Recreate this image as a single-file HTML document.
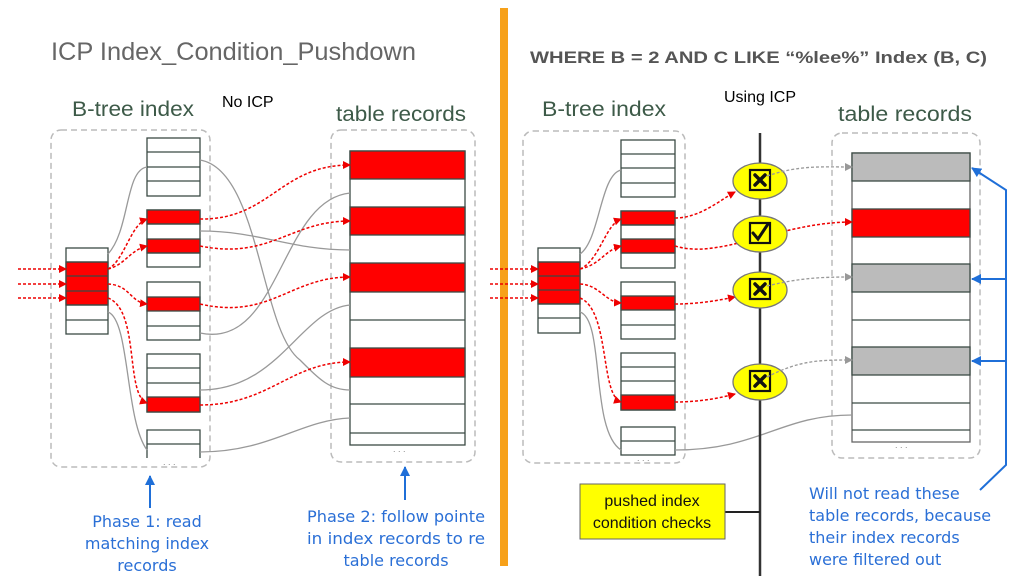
<!DOCTYPE html>
<html><head><meta charset="utf-8"><style>
html,body{margin:0;padding:0;background:#fff;}
svg{display:block;}
text{font-family:"Liberation Sans",sans-serif;}
.b{font-family:"DejaVu Sans",sans-serif;fill:#2a6fd6;font-size:16px;}
</style></head><body>
<svg width="1024" height="576" viewBox="0 0 1024 576" xmlns="http://www.w3.org/2000/svg">
<defs>
<marker id="ar" markerWidth="8" markerHeight="8" refX="7" refY="4" orient="auto" markerUnits="userSpaceOnUse"><path d="M0,0 L8,4 L0,8 z" fill="#e00"/></marker>
<marker id="ag" markerWidth="8" markerHeight="8" refX="7" refY="4" orient="auto" markerUnits="userSpaceOnUse"><path d="M0,0 L8,4 L0,8 z" fill="#999"/></marker>
<marker id="ab" markerWidth="10" markerHeight="10" refX="9" refY="5" orient="auto" markerUnits="userSpaceOnUse"><path d="M0,0 L10,5 L0,10 z" fill="#1f6fd8"/></marker>
</defs>
<rect x="500" y="8" width="8" height="558" fill="#f7a11a"/>
<text x="51" y="60" font-size="25" fill="#666" textLength="365" lengthAdjust="spacingAndGlyphs">ICP Index_Condition_Pushdown</text>
<text x="530" y="63" font-size="17" font-weight="bold" fill="#555" textLength="457" lengthAdjust="spacingAndGlyphs">WHERE B = 2 AND C LIKE “%lee%”  Index (B, C)</text>
<text x="72" y="116" font-size="21" fill="#3d5a48" textLength="122" lengthAdjust="spacingAndGlyphs">B-tree index</text>
<text x="222" y="107" font-size="16" fill="#000">No ICP</text>
<text x="336" y="121" font-size="21" fill="#3d5a48" textLength="130" lengthAdjust="spacingAndGlyphs">table records</text>
<text x="542" y="116" font-size="21" fill="#3d5a48" textLength="124" lengthAdjust="spacingAndGlyphs">B-tree index</text>
<text x="724" y="102" font-size="16" fill="#000">Using ICP</text>
<text x="838" y="121" font-size="21" fill="#3d5a48" textLength="134" lengthAdjust="spacingAndGlyphs">table records</text>

<g fill="none" stroke="#bbb" stroke-width="1.5" stroke-dasharray="6,4">
<rect x="51" y="130" width="159" height="337" rx="10"/>
<rect x="331" y="130" width="144" height="332" rx="10"/>
<rect x="523" y="131" width="162" height="332" rx="10"/>
<rect x="832" y="133" width="148" height="325" rx="10"/>
</g>

<g stroke="#3b4a44" stroke-width="1.3">
<rect x="66" y="248" width="42" height="86" fill="#fff"/>
<rect x="66" y="262" width="42" height="43" fill="#f00"/>
<path d="M66 262H108M66 276H108M66 291H108M66 305H108M66 320H108"/>
<rect x="147" y="138" width="53" height="58" fill="#fff"/>
<path d="M147 152H200M147 167H200M147 181H200"/>
<rect x="147" y="210" width="53" height="57" fill="#fff"/>
<rect x="147" y="210" width="53" height="14" fill="#f00"/><rect x="147" y="239" width="53" height="14" fill="#f00"/>
<path d="M147 224H200M147 253H200"/>
<rect x="147" y="282" width="53" height="58" fill="#fff"/>
<rect x="147" y="297" width="53" height="14" fill="#f00"/>
<path d="M147 326H200"/>
<rect x="147" y="354" width="53" height="58" fill="#fff"/>
<rect x="147" y="397" width="53" height="15" fill="#f00"/>
<path d="M147 368H200M147 383H200"/>
<path d="M147 458V430H200V458M147 444H200" fill="#fff"/>
<rect x="350" y="151" width="115" height="294" fill="#fff"/>
<rect x="350" y="151" width="115" height="28" fill="#f00"/>
<rect x="350" y="207" width="115" height="28" fill="#f00"/>
<rect x="350" y="263" width="115" height="29" fill="#f00"/>
<rect x="350" y="348" width="115" height="29" fill="#f00"/>
<path d="M350 320H465M350 404H465M350 433H465"/>
</g>
<text x="163" y="465" font-size="9" fill="#888">. . .</text>
<text x="393" y="452" font-size="9" fill="#888">. . .</text>

<g fill="none" stroke="#999" stroke-width="1.3">
<path d="M108 254C130 230 125 170 147 167"/>
<path d="M108 312C130 320 125 420 147 450"/>
<path d="M200 160C260 170 260 330 300 360C320 380 330 390 350 390"/>
<path d="M200 231C260 231 290 250 350 250"/>
<path d="M200 333C280 350 280 200 350 193"/>
<path d="M200 390C280 390 300 310 350 305"/>
<path d="M200 452C270 452 300 420 350 418"/>
</g>
<g fill="none" stroke="#e00" stroke-width="1.5" stroke-dasharray="3,2">
<path d="M18 269H66" marker-end="url(#ar)"/><path d="M18 284H66" marker-end="url(#ar)"/><path d="M18 298H66" marker-end="url(#ar)"/>
<path d="M108 269C125 260 130 225 147 219" marker-end="url(#ar)"/>
<path d="M108 269C125 265 130 250 147 246" marker-end="url(#ar)"/>
<path d="M108 284C130 285 130 302 147 304" marker-end="url(#ar)"/>
<path d="M108 298C140 310 125 395 147 403" marker-end="url(#ar)"/>
<path d="M200 219C270 220 280 165 350 165" marker-end="url(#ar)"/>
<path d="M200 246C270 260 290 221 350 221" marker-end="url(#ar)"/>
<path d="M200 304C270 320 290 277 350 277" marker-end="url(#ar)"/>
<path d="M200 405C270 405 290 362 350 362" marker-end="url(#ar)"/>
</g>

<g stroke="#3b4a44" stroke-width="1.3">
<rect x="538" y="248" width="42" height="85" fill="#fff"/>
<rect x="538" y="262" width="42" height="42" fill="#f00"/>
<path d="M538 262H580M538 276H580M538 290H580M538 304H580M538 318H580"/>
<rect x="621" y="140" width="54" height="57" fill="#fff"/>
<path d="M621 154H675M621 168H675M621 183H675"/>
<rect x="621" y="211" width="54" height="57" fill="#fff"/>
<rect x="621" y="211" width="54" height="14" fill="#f00"/><rect x="621" y="239" width="54" height="14" fill="#f00"/>
<path d="M621 225H675M621 253H675"/>
<rect x="621" y="282" width="54" height="57" fill="#fff"/>
<rect x="621" y="296" width="54" height="14" fill="#f00"/>
<path d="M621 325H675"/>
<rect x="621" y="353" width="54" height="57" fill="#fff"/>
<rect x="621" y="395" width="54" height="15" fill="#f00"/>
<path d="M621 367H675M621 381H675"/>
<rect x="621" y="427" width="54" height="28" fill="#fff"/>
<path d="M621 441H675"/>
<rect x="852" y="153" width="118" height="289" fill="#fff" stroke="#666"/>
<rect x="852" y="153" width="118" height="28" fill="#bbb"/>
<rect x="852" y="209" width="118" height="28" fill="#f00"/>
<rect x="852" y="264" width="118" height="28" fill="#bbb"/>
<rect x="852" y="347" width="118" height="28" fill="#bbb"/>
<path d="M852 320H970M852 403H970M852 430H970"/>
</g>
<text x="637" y="461" font-size="9" fill="#888">. . .</text>
<text x="895" y="448" font-size="9" fill="#888">. . .</text>
<g fill="none" stroke="#999" stroke-width="1.3">
<path d="M580 254C600 240 600 175 621 170"/>
<path d="M580 312C605 320 590 430 621 450"/>
<path d="M675 450C760 450 780 415 852 415"/>
</g>
<line x1="760" y1="133" x2="760" y2="576" stroke="#333" stroke-width="2.5"/>
<path d="M725 512H760" stroke="#222" stroke-width="2" fill="none"/>
<g fill="none" stroke="#e00" stroke-width="1.5" stroke-dasharray="3,2">
<path d="M490 269H538" marker-end="url(#ar)"/><path d="M490 284H538" marker-end="url(#ar)"/><path d="M490 298H538" marker-end="url(#ar)"/>
<path d="M580 269C600 260 605 225 621 219" marker-end="url(#ar)"/>
<path d="M580 269C600 265 605 250 621 246" marker-end="url(#ar)"/>
<path d="M580 284C600 285 605 302 621 303" marker-end="url(#ar)"/>
<path d="M580 298C610 310 600 395 621 402" marker-end="url(#ar)"/>
<path d="M675 218C700 218 720 200 735 192" marker-end="url(#ar)"/>
<path d="M675 246C720 260 780 222 852 222" marker-end="url(#ar)"/>
<path d="M675 304C700 304 720 300 735 297" marker-end="url(#ar)"/>
<path d="M675 402C700 402 720 398 735 394" marker-end="url(#ar)"/>
</g>
<g fill="#ff0" stroke="#777" stroke-width="1.3">
<ellipse cx="760" cy="181" rx="27" ry="18"/>
<ellipse cx="760" cy="234" rx="27" ry="18"/>
<ellipse cx="760" cy="290" rx="27" ry="18"/>
<ellipse cx="760" cy="382" rx="27" ry="18"/>
</g>
<g fill="#ff0" stroke="#111" stroke-width="2.2">
<rect x="750" y="170" width="20" height="20"/><rect x="750" y="223" width="20" height="20"/>
<rect x="750" y="279" width="20" height="20"/><rect x="750" y="371" width="20" height="20"/>
</g>
<g fill="none" stroke="#111" stroke-width="3.5" stroke-linecap="round">
<path d="M755 175L765 185M765 175L755 185"/>
<path d="M755 284L765 294M765 284L755 294"/>
<path d="M755 376L765 386M765 376L755 386"/>
<path d="M753 233L758 239L768 224" stroke-width="3"/>
</g>
<g fill="none" stroke="#999" stroke-width="1.3" stroke-dasharray="3,2">
<path d="M767 176C800 165 820 167 852 167" marker-end="url(#ag)"/>
<path d="M767 286C800 278 820 277 852 277" marker-end="url(#ag)"/>
<path d="M767 377C800 360 820 360 852 360" marker-end="url(#ag)"/>
</g>
<g fill="none" stroke="#1f6fd8" stroke-width="2">
<path d="M980 490L1006 465V190L972 168" marker-end="url(#ab)"/>
<path d="M1006 279H972" marker-end="url(#ab)"/>
<path d="M1006 361H972" marker-end="url(#ab)"/>
</g>
<rect x="580" y="484" width="145" height="55" fill="#ff0" stroke="#666"/>
<text x="652" y="506" font-size="16" text-anchor="middle" fill="#111">pushed index</text>
<text x="652" y="528" font-size="16" text-anchor="middle" fill="#111">condition checks</text>

<g stroke="#1f6fd8" stroke-width="2" fill="none">
<path d="M150 508V476" marker-end="url(#ab)"/>
<path d="M405 500V467" marker-end="url(#ab)"/>
</g>
<text class="b" x="147" y="527" text-anchor="middle">Phase 1: read</text>
<text class="b" x="147" y="549" text-anchor="middle">matching index</text>
<text class="b" x="147" y="571" text-anchor="middle">records</text>
<text class="b" x="307" y="522" textLength="178" lengthAdjust="spacingAndGlyphs">Phase 2: follow pointe</text>
<text class="b" x="307" y="544" textLength="178" lengthAdjust="spacingAndGlyphs">in index records to re</text>
<text class="b" x="396" y="566" text-anchor="middle">table records</text>
<text class="b" x="809" y="499">Will not read these</text>
<text class="b" x="809" y="521">table records, because</text>
<text class="b" x="809" y="543">their index records</text>
<text class="b" x="809" y="565">were filtered out</text>
</svg>
</body></html>
